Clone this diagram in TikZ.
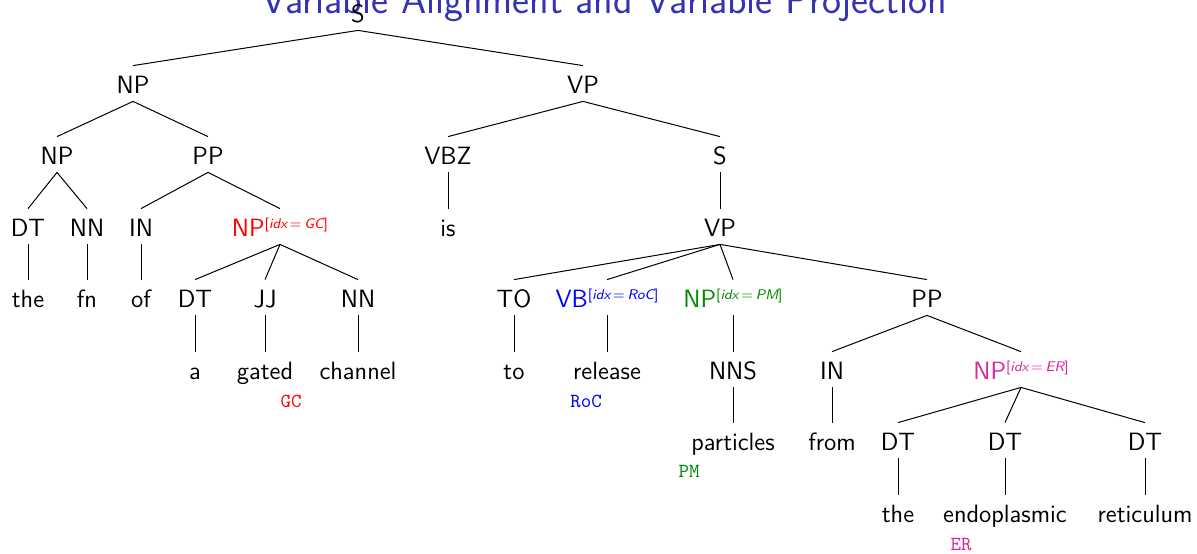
\documentclass[tikz,border=0pt]{standalone}
\usepackage{fontspec}
\renewcommand{\familydefault}{\sfdefault}
\definecolor{titleblue}{RGB}{51,51,179}
\definecolor{gcred}{RGB}{255,0,0}
\definecolor{rocblue}{RGB}{0,0,255}
\definecolor{pmgreen}{RGB}{0,140,0}
\definecolor{ermag}{RGB}{214,41,153}
\newcommand\idxsup[1]{\raisebox{3.8pt}{\fontsize{7}{8}\selectfont[{\itshape idx}\kern.2em=\kern.2em{\itshape #1}]}}
\tikzset{
  lbl/.style={anchor=base, font=\fontsize{12.5}{14}\selectfont, text height=11.5pt, text depth=2pt, inner ysep=2pt, inner xsep=1pt},
  ann/.style={anchor=base, font=\fontsize{10}{12}\selectfont\ttfamily, inner sep=0pt},
  edge/.style={draw=black, line width=0.5pt},
  ttl/.style={anchor=base, font=\fontsize{20.2}{24}\selectfont, text=titleblue, inner sep=0pt}
}
\begin{document}
\begin{tikzpicture}[x=0.5pt,y=-0.5pt]
\useasboundingbox (0,0) rectangle (1197,553);
\node[ttl] (title) at (604,13) {Variable Alignment and Variable Projection};
% level 0
\node[lbl] (S0) at (358,22) {S};
% level 1
\node[lbl] (NP1) at (133,93) {NP};
\node[lbl] (VP1) at (583,93) {VP};
% level 2
\node[lbl] (NP2) at (57,164) {NP};
\node[lbl] (PP1) at (208,164) {PP};
\node[lbl] (VBZ) at (448,164) {VBZ};
\node[lbl] (S2) at (720,164) {S};
% level 3
\node[lbl] (DT1) at (28,236) {DT};
\node[lbl] (NN1) at (87,236) {NN};
\node[lbl] (IN1) at (141,236) {IN};
\node[lbl,text=gcred] (NPgc) at (280,236) {NP\idxsup{GC}};
\node[lbl] (is) at (448,236) {is};
\node[lbl] (VP2) at (720,236) {VP};
% level 4
\node[lbl] (the1) at (28,307) {the};
\node[lbl] (fn) at (87,307) {fn};
\node[lbl] (of) at (141,307) {of};
\node[lbl] (DT2) at (195,307) {DT};
\node[lbl] (JJ) at (265,307) {JJ};
\node[lbl] (NN2) at (358,307) {NN};
\node[lbl] (TO) at (514,307) {TO};
\node[lbl,text=rocblue] (VBroc) at (607,307) {VB\idxsup{RoC}};
\node[lbl,text=pmgreen] (NPpm) at (733,307) {NP\idxsup{PM}};
\node[lbl] (PP2) at (927,307) {PP};
% level 5
\node[lbl] (a) at (195,379) {a};
\node[lbl] (gated) at (265,379) {gated};
\node[lbl] (channel) at (358,379) {channel};
\node[lbl] (to) at (514,379) {to};
\node[lbl] (release) at (607,379) {release};
\node[lbl] (NNS) at (733,379) {NNS};
\node[lbl] (IN2) at (832,379) {IN};
\node[lbl,text=ermag] (NPer) at (1021,379) {NP\idxsup{ER}};
% level 6
\node[lbl] (particles) at (733,450) {particles};
\node[lbl] (from) at (832,450) {from};
\node[lbl] (DT3) at (898,450) {DT};
\node[lbl] (DT4) at (1005,450) {DT};
\node[lbl] (DT5) at (1145,450) {DT};
% level 7
\node[lbl] (the2) at (898,522) {the};
\node[lbl] (endo) at (1005,522) {endoplasmic};
\node[lbl] (retic) at (1145,522) {reticulum};
% annotations
\node[ann,text=gcred] (aGC) at (291,407) {GC};
\node[ann,text=rocblue] (aRoC) at (586,407) {RoC};
\node[ann,text=pmgreen] (aPM) at (689,477) {PM};
\node[ann,text=ermag] (aER) at (961,550) {ER};
% edges
\draw[edge] (S0.south) -- (NP1.north);
\draw[edge] (S0.south) -- (VP1.north);
\draw[edge] (NP1.south) -- (NP2.north);
\draw[edge] (NP1.south) -- (PP1.north);
\draw[edge] (NP2.south) -- (DT1.north);
\draw[edge] (NP2.south) -- (NN1.north);
\draw[edge] (DT1.south) -- (the1.north);
\draw[edge] (NN1.south) -- (fn.north);
\draw[edge] (PP1.south) -- (IN1.north);
\draw[edge] (PP1.south) -- (NPgc.north);
\draw[edge] (IN1.south) -- (of.north);
\draw[edge] (NPgc.south) -- (DT2.north);
\draw[edge] (NPgc.south) -- (JJ.north);
\draw[edge] (NPgc.south) -- (NN2.north);
\draw[edge] (DT2.south) -- (a.north);
\draw[edge] (JJ.south) -- (gated.north);
\draw[edge] (NN2.south) -- (channel.north);
\draw[edge] (VP1.south) -- (VBZ.north);
\draw[edge] (VP1.south) -- (S2.north);
\draw[edge] (VBZ.south) -- (is.north);
\draw[edge] (S2.south) -- (VP2.north);
\draw[edge] (VP2.south) -- (TO.north);
\draw[edge] (VP2.south) -- (VBroc.north);
\draw[edge] (VP2.south) -- (NPpm.north);
\draw[edge] (VP2.south) -- (PP2.north);
\draw[edge] (TO.south) -- (to.north);
\draw[edge] (VBroc.south) -- (release.north);
\draw[edge] (NPpm.south) -- (NNS.north);
\draw[edge] (NNS.south) -- (particles.north);
\draw[edge] (PP2.south) -- (IN2.north);
\draw[edge] (PP2.south) -- (NPer.north);
\draw[edge] (IN2.south) -- (from.north);
\draw[edge] (NPer.south) -- (DT3.north);
\draw[edge] (NPer.south) -- (DT4.north);
\draw[edge] (NPer.south) -- (DT5.north);
\draw[edge] (DT3.south) -- (the2.north);
\draw[edge] (DT4.south) -- (endo.north);
\draw[edge] (DT5.south) -- (retic.north);
\end{tikzpicture}
\end{document}
